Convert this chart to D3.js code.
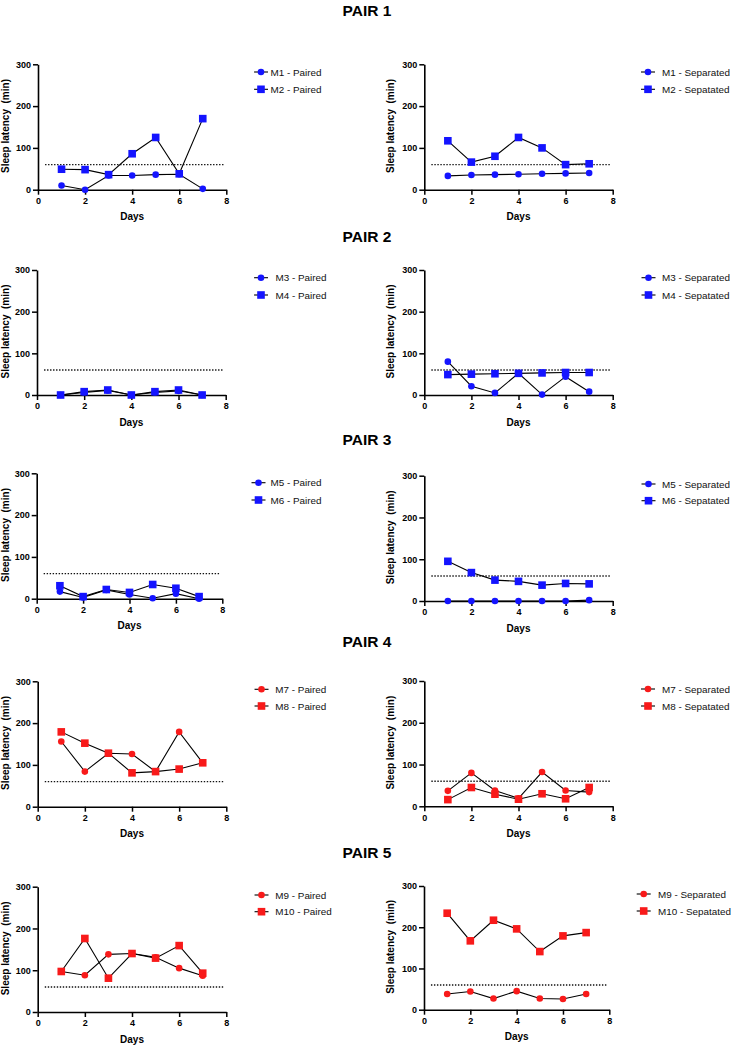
<!DOCTYPE html>
<html>
<head>
<meta charset="utf-8">
<script src="https://cdn.jsdelivr.net/npm/d3@7"></script>
<style>
  html, body { margin: 0; padding: 0; background: #fff; }
  svg { display: block; font-family: "Liberation Sans", Arial, sans-serif; }
</style>
</head>
<body>
<script>
// ---------- DATA ----------
const days = [1, 2, 3, 4, 5, 6, 7];
const xTicks = [0, 2, 4, 6, 8];
const yTicks = [0, 100, 200, 300];
const threshold = 60;
const pairTitles = ["PAIR 1", "PAIR 2", "PAIR 3", "PAIR 4", "PAIR 5"];

const m1Paired = [10, 0, 34, 34, 36, 37, 2];
const m2Paired = [49, 48, 36, 86, 125, 38, 170];
const m1Separated = [33, 35, 36, 37, 38, 39, 40];
const m2Separated = [117, 66, 80, 125, 100, 60, 62];

const m3Paired = [0, 6, 11, 0, 6, 10, 0];
const m4Paired = [0, 8, 12, 0, 8, 12, 0];
const m3Separated = [80, 21, 5, 52, 1, 44, 8];
const m4Separated = [49, 50, 51, 52, 53, 54, 54];

const m5Paired = [17, 3, 21, 10, 1, 12, 0];
const m6Paired = [31, 5, 22, 15, 34, 25, 5];
const m5Separated = [0, 0, 0, 0, 0, 0, 2];
const m6Separated = [95, 68, 50, 47, 38, 42, 41];

const m7Paired = [156, 84, 128, 126, 84, 179, 105];
const m8Paired = [179, 152, 128, 81, 84, 90, 105];
const m7Separated = [37, 80, 38, 19, 82, 38, 34];
const m8Separated = [16, 45, 29, 17, 30, 18, 45];

const m9Paired = [97, 88, 138, 140, 131, 105, 87];
const m10Paired = [97, 176, 81, 140, 129, 159, 93];
const m9Separated = [38, 44, 27, 45, 27, 26, 38];
const m10Separated = [234, 167, 217, 196, 141, 179, 187];

const seriesLabels = [
  ["M1 - Paired", "M2 - Paired", "M1 - Separated", "M2 - Sepatated"],
  ["M3 - Paired", "M4 - Paired", "M3 - Separated", "M4 - Sepatated"],
  ["M5 - Paired", "M6 - Paired", "M5 - Separated", "M6 - Sepatated"],
  ["M7 - Paired", "M8 - Paired", "M7 - Separated", "M8 - Sepatated"],
  ["M9 - Paired", "M10 - Paired", "M9 - Separated", "M10 - Sepatated"]
];

// ---------- LAYOUT ----------
const W = 734, H = 1046;
const BLUE = "#1414ff", RED = "#f81a1a";
const pairColors = [BLUE, BLUE, BLUE, RED, RED];
const titleY = [10, 236, 439, 641, 852];
const yTitleX = [5.5, 390.5];

// per panel: x0, x8, y300, y0, legend marker x, legend text x, legend row y1, y2
const layout = [
  [[38, 226.3, 64.3, 189.7, 261, 270.5, 72, 89.3], [424.3, 612.7, 64.3, 189.7, 648, 662, 72, 89.3]],
  [[37, 225.7, 270, 395, 261, 275.5, 277.7, 295], [424.3, 612.7, 270, 395, 648.5, 662, 277.7, 295]],
  [[36.7, 222.3, 473.3, 598.7, 258.5, 270.5, 482.7, 500], [424.3, 612.7, 475.7, 601, 648.5, 662, 484, 500.7]],
  [[37.7, 226.3, 681.3, 806.7, 261.5, 275.3, 689.3, 706], [424.3, 612.7, 681, 806.3, 648, 662, 689, 706]],
  [[37.7, 226.3, 886.7, 1012, 261.5, 275.3, 895, 911.7], [424, 609.3, 886, 1009.7, 643.7, 658, 894, 911]]
];

const pairData = [
  [[m1Paired, m2Paired], [m1Separated, m2Separated]],
  [[m3Paired, m4Paired], [m3Separated, m4Separated]],
  [[m5Paired, m6Paired], [m5Separated, m6Separated]],
  [[m7Paired, m8Paired], [m7Separated, m8Separated]],
  [[m9Paired, m10Paired], [m9Separated, m10Separated]]
];

const svg = d3.select("body").append("svg").attr("width", W).attr("height", H);

// titles
pairTitles.forEach((t, i) => {
  svg.append("text")
    .attr("x", 367).attr("y", titleY[i])
    .attr("dy", "0.36em")
    .attr("text-anchor", "middle")
    .attr("font-size", 15.5).attr("font-weight", "bold")
    .text(t);
});

function drawMarker(g, shape, x, y, color) {
  if (shape === "circle") {
    g.append("circle").attr("cx", x).attr("cy", y).attr("r", 3.3).attr("fill", color);
  } else {
    g.append("rect").attr("x", x - 3.8).attr("y", y - 3.8).attr("width", 7.6).attr("height", 7.6).attr("fill", color);
  }
}

pairData.forEach((pair, pi) => {
  pair.forEach((series, side) => {
    const [x0, x8, y300, y0, lmx, ltx, ly1, ly2] = layout[pi][side];
    const color = pairColors[pi];
    const x = d3.scaleLinear().domain([0, 8]).range([x0, x8]);
    const y = d3.scaleLinear().domain([0, 300]).range([y0, y300]);
    const g = svg.append("g");

    // threshold dotted line
    g.append("line")
      .attr("x1", x(0.3)).attr("x2", x(7.9))
      .attr("y1", y(threshold)).attr("y2", y(threshold))
      .attr("stroke", "#111").attr("stroke-width", 1.4)
      .attr("stroke-dasharray", "1.4,1.6");

    // axes
    const ya = g.append("g").attr("transform", `translate(${x0},0)`)
      .call(d3.axisLeft(y).tickValues(yTicks).tickSize(5).tickSizeOuter(0).tickPadding(2));
    const xa = g.append("g").attr("transform", `translate(0,${y0})`)
      .call(d3.axisBottom(x).tickValues(xTicks).tickSize(5).tickSizeOuter(0).tickPadding(3));
    [ya, xa].forEach(a => {
      a.select(".domain").attr("stroke", "#000").attr("stroke-width", 1.6);
      a.selectAll(".tick line").attr("stroke", "#000").attr("stroke-width", 1.5);
      a.selectAll(".tick text").attr("font-size", 9).attr("font-weight", "bold")
        .attr("fill", "#000").attr("font-family", "'Liberation Sans', Arial, sans-serif");
    });

    // axis titles
    g.append("text")
      .attr("x", (x0 + x8) / 2).attr("y", y0 + 27).attr("dy", "0.36em")
      .attr("text-anchor", "middle").attr("font-size", 10).attr("font-weight", "bold")
      .text("Days");
    g.append("text")
      .attr("transform", `translate(${yTitleX[side]},${(y0 + y300) / 2 - 1}) rotate(-90)`)
      .attr("dy", "0.36em")
      .attr("text-anchor", "middle").attr("font-size", 10).attr("font-weight", "bold")
      .attr("xml:space", "preserve")
      .style("white-space", "pre")
      .text("Sleep latency  (min)");

    // series
    const shapes = ["circle", "square"];
    const line = d3.line().x((d, i) => x(days[i])).y(d => y(d));
    series.forEach((vals, si) => {
      g.append("path").attr("d", line(vals))
        .attr("fill", "none").attr("stroke", "#000").attr("stroke-width", 1.1);
      vals.forEach((v, i) => drawMarker(g, shapes[si], x(days[i]), y(v), color));
    });

    // legend
    const labels = [seriesLabels[pi][side * 2], seriesLabels[pi][side * 2 + 1]];
    [ly1, ly2].forEach((ly, si) => {
      g.append("line").attr("x1", lmx - 7).attr("x2", lmx + 7).attr("y1", ly).attr("y2", ly)
        .attr("stroke", "#000").attr("stroke-width", 1.1);
      drawMarker(g, shapes[si], lmx, ly, color);
      g.append("text").attr("x", ltx).attr("y", ly).attr("dy", "0.36em")
        .attr("font-size", 9.9).attr("fill", "#111").text(labels[si]);
    });
  });
});
</script>
</body>
</html>
